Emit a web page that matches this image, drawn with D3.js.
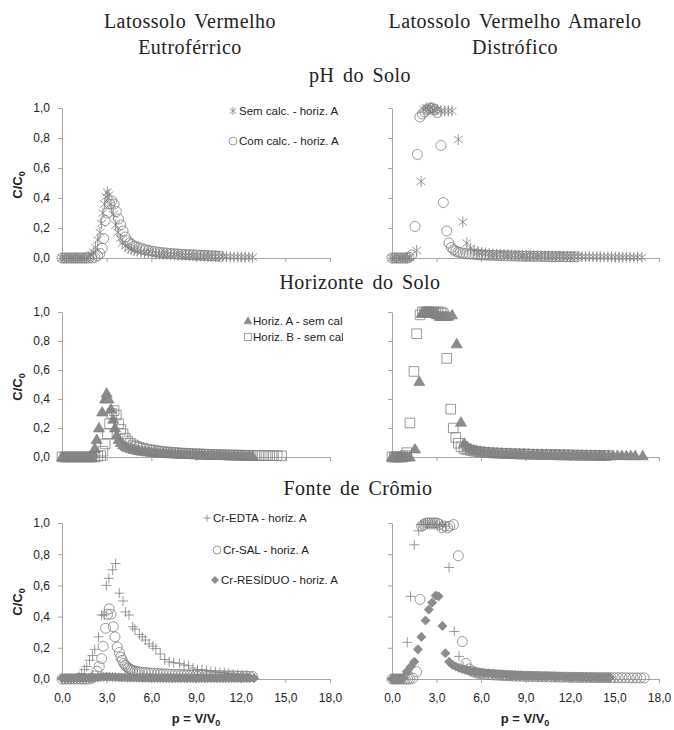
<!DOCTYPE html>
<html>
<head>
<meta charset="utf-8">
<script src="https://cdn.jsdelivr.net/npm/d3@7"></script>
<style>
  body { margin: 0; background: #fff; }
  svg text { fill: #222; }
</style>
</head>
<body>
<svg id="chart" width="674" height="730"></svg>
<script>
// ---- data (p = V/V0, C/C0) ----
const xTickVals = [0, 3, 6, 9, 12, 15, 18];
const xTickLabels = ["0,0", "3,0", "6,0", "9,0", "12,0", "15,0", "18,0"];
const yTickVals = [0, 0.2, 0.4, 0.6, 0.8, 1.0];
const yTickLabels = ["0,0", "0,2", "0,4", "0,6", "0,8", "1,0"];

// pH do Solo - Latossolo Vermelho Eutroférrico
const tlSemCalc = [[0,0],[0.15,0],[0.3,0],[0.45,0],[0.6,0],[0.75,0],[0.9,0],[1.05,0],[1.2,0],[1.35,0],[1.5,0],[1.65,0],[1.8,0.01],[1.95,0.02],[2.1,0.04],[2.25,0.07],[2.4,0.12],[2.55,0.17],[2.65,0.23],[2.75,0.3],[2.85,0.36],[2.95,0.41],[3.05,0.44],[3.15,0.42],[3.3,0.36],[3.45,0.29],[3.6,0.22],[3.75,0.17],[3.9,0.13],[4.05,0.1],[4.25,0.08],[4.45,0.065],[4.65,0.055],[4.85,0.05],[5.05,0.045],[5.3,0.04],[5.55,0.036],[5.8,0.033],[6.05,0.03],[6.3,0.028],[6.55,0.026],[6.8,0.025],[7.05,0.024],[7.3,0.022],[7.55,0.021],[7.8,0.02],[8.05,0.019],[8.3,0.018],[8.55,0.017],[8.8,0.016],[9.05,0.015],[9.3,0.014],[9.55,0.013],[9.8,0.012],[10.05,0.012],[10.3,0.011],[10.55,0.01],[10.8,0.01],[11.05,0.009],[11.3,0.008],[11.55,0.008],[11.8,0.007],[12.05,0.007],[12.3,0.006],[12.55,0.006],[12.8,0.005]];
const tlComCalc = [[0,0],[0.2,0],[0.4,0],[0.6,0],[0.8,0],[1.0,0],[1.2,0],[1.4,0],[1.6,0],[1.8,0],[2.0,0],[2.2,0.005],[2.4,0.015],[2.55,0.03],[2.7,0.065],[2.8,0.13],[2.9,0.25],[3.05,0.3],[3.2,0.36],[3.35,0.38],[3.5,0.36],[3.65,0.31],[3.8,0.26],[3.95,0.22],[4.1,0.18],[4.25,0.14],[4.4,0.115],[4.55,0.1],[4.7,0.09],[4.85,0.08],[5.0,0.075],[5.2,0.068],[5.4,0.062],[5.6,0.056],[5.8,0.051],[6.0,0.047],[6.2,0.043],[6.4,0.04],[6.6,0.037],[6.8,0.035],[7.0,0.033],[7.2,0.031],[7.4,0.029],[7.6,0.028],[7.8,0.026],[8.0,0.025],[8.2,0.024],[8.4,0.023],[8.6,0.022],[8.8,0.021],[9.0,0.02],[9.2,0.019],[9.4,0.018],[9.6,0.017],[9.8,0.016],[10.0,0.015],[10.2,0.014],[10.4,0.013],[10.6,0.012]];

// pH do Solo - Latossolo Vermelho Amarelo Distrófico
const trSemCalc = [[0,0],[0.15,0],[0.3,0],[0.45,0],[0.6,0],[0.75,0],[0.9,0],[1.05,0],[1.2,0.005],[1.66,0.05],[1.96,0.51],[2.15,0.99],[2.3,1.0],[2.45,0.99],[2.6,1.0],[2.75,0.99],[2.9,0.98],[3.05,0.99],[3.3,0.98],[3.55,0.98],[3.8,0.98],[4.05,0.98],[4.47,0.79],[4.77,0.24],[5.04,0.1],[5.3,0.065],[5.55,0.05],[5.8,0.042],[6.05,0.036],[6.3,0.032],[6.55,0.029],[6.8,0.027],[7.05,0.025],[7.3,0.024],[7.55,0.022],[7.8,0.021],[8.05,0.02],[8.3,0.019],[8.55,0.018],[8.8,0.017],[9.05,0.016],[9.3,0.016],[9.55,0.015],[9.8,0.015],[10.05,0.014],[10.3,0.014],[10.55,0.013],[10.8,0.013],[11.05,0.012],[11.3,0.012],[11.55,0.011],[11.8,0.011],[12.05,0.01],[12.3,0.01],[12.55,0.01],[12.8,0.009],[13.05,0.009],[13.3,0.009],[13.55,0.008],[13.8,0.008],[14.05,0.008],[14.3,0.007],[14.55,0.007],[14.8,0.007],[15.05,0.006],[15.3,0.006],[15.55,0.006],[15.8,0.005],[16.05,0.005],[16.3,0.005],[16.55,0.005],[16.85,0.004]];
const trComCalc = [[0,0],[0.2,0],[0.4,0],[0.6,0],[0.8,0],[1.0,0],[1.15,0.005],[1.33,0.02],[1.55,0.21],[1.71,0.69],[1.88,0.94],[2.05,0.96],[2.2,0.975],[2.4,0.99],[2.56,1.0],[2.72,1.0],[2.88,0.99],[3.05,0.97],[3.3,0.75],[3.46,0.37],[3.69,0.18],[3.84,0.1],[4.0,0.07],[4.15,0.055],[4.3,0.046],[4.45,0.04],[4.6,0.036],[4.8,0.032],[5.0,0.029],[5.2,0.027],[5.4,0.025],[5.6,0.024],[5.8,0.022],[6.0,0.021],[6.2,0.02],[6.4,0.019],[6.6,0.018],[6.8,0.018],[7.0,0.017],[7.2,0.016],[7.4,0.016],[7.6,0.015],[7.8,0.015],[8.0,0.014],[8.2,0.014],[8.4,0.013],[8.6,0.013],[8.8,0.012],[9.0,0.012],[9.2,0.012],[9.4,0.011],[9.6,0.011],[9.8,0.011],[10.0,0.01],[10.2,0.01],[10.4,0.01],[10.6,0.01],[10.8,0.009],[11.0,0.009],[11.2,0.009],[11.4,0.009],[11.6,0.008],[11.8,0.008],[12.0,0.008],[12.2,0.008],[12.45,0.008]];

// Horizonte do Solo - Eutroférrico
const mlHorizA = [[0,0],[0.15,0],[0.3,0],[0.45,0],[0.6,0],[0.75,0],[0.9,0],[1.05,0],[1.2,0],[1.35,0],[1.5,0],[1.65,0],[1.8,0],[1.95,0],[2.1,0.02],[2.2,0.06],[2.33,0.12],[2.48,0.2],[2.7,0.31],[2.89,0.4],[3.0,0.44],[3.12,0.4],[3.29,0.33],[3.44,0.26],[3.56,0.2],[3.67,0.15],[3.8,0.12],[3.95,0.1],[4.1,0.085],[4.25,0.074],[4.4,0.066],[4.6,0.058],[4.8,0.052],[5.0,0.047],[5.2,0.043],[5.4,0.04],[5.6,0.037],[5.8,0.034],[6.0,0.032],[6.2,0.03],[6.4,0.028],[6.6,0.027],[6.8,0.025],[7.0,0.024],[7.2,0.023],[7.4,0.022],[7.6,0.021],[7.8,0.02],[8.0,0.019],[8.2,0.018],[8.4,0.017],[8.6,0.017],[8.8,0.016],[9.0,0.015],[9.2,0.015],[9.4,0.014],[9.6,0.013],[9.8,0.013],[10.0,0.012],[10.2,0.012],[10.4,0.011],[10.6,0.011],[10.8,0.01],[11.0,0.01],[11.2,0.009],[11.4,0.009],[11.6,0.008],[11.8,0.008],[12.0,0.007],[12.2,0.007],[12.4,0.006],[12.6,0.006],[12.8,0.005]];
const mlHorizB = [[0,0],[0.2,0],[0.4,0],[0.6,0],[0.8,0],[1.0,0],[1.2,0],[1.4,0],[1.6,0],[1.8,0],[2.0,0],[2.2,0],[2.4,0.005],[2.6,0.01],[2.75,0.04],[2.9,0.09],[3.05,0.16],[3.2,0.23],[3.35,0.3],[3.5,0.32],[3.65,0.29],[3.8,0.23],[3.95,0.19],[4.1,0.16],[4.25,0.13],[4.4,0.11],[4.6,0.095],[4.8,0.083],[5.0,0.073],[5.2,0.066],[5.45,0.06],[5.7,0.054],[5.95,0.049],[6.2,0.045],[6.45,0.041],[6.7,0.038],[6.95,0.035],[7.2,0.033],[7.45,0.031],[7.7,0.029],[7.95,0.027],[8.2,0.026],[8.45,0.024],[8.7,0.023],[8.95,0.022],[9.2,0.021],[9.45,0.02],[9.7,0.019],[9.95,0.018],[10.2,0.017],[10.45,0.016],[10.7,0.016],[10.95,0.015],[11.2,0.014],[11.45,0.014],[11.7,0.013],[11.95,0.013],[12.2,0.012],[12.45,0.012],[12.7,0.011],[12.95,0.011],[13.2,0.01],[13.45,0.01],[13.7,0.01],[13.95,0.009],[14.2,0.009],[14.45,0.009],[14.75,0.008]];

// Horizonte do Solo - Distrófico
const mrHorizA = [[0,0],[0.15,0],[0.3,0],[0.45,0],[0.6,0],[0.75,0],[0.9,0],[1.05,0],[1.2,0],[1.55,0.055],[1.84,0.52],[2.0,0.99],[2.15,1.0],[2.3,1.0],[2.45,1.0],[2.6,1.0],[2.75,0.99],[2.9,0.99],[3.05,0.98],[3.2,0.97],[3.35,0.97],[3.5,0.97],[3.65,0.97],[3.8,0.97],[4.05,0.98],[4.36,0.78],[4.65,0.24],[4.88,0.095],[5.1,0.07],[5.3,0.058],[5.5,0.05],[5.7,0.045],[5.95,0.04],[6.2,0.036],[6.5,0.033],[6.8,0.031],[7.1,0.029],[7.4,0.027],[7.7,0.026],[8.0,0.025],[8.3,0.024],[8.6,0.023],[8.9,0.022],[9.2,0.021],[9.5,0.02],[9.8,0.019],[10.1,0.019],[10.4,0.018],[10.7,0.017],[11.0,0.017],[11.3,0.016],[11.6,0.016],[11.9,0.015],[12.2,0.015],[12.5,0.014],[12.8,0.014],[13.1,0.013],[13.4,0.013],[13.7,0.012],[14.0,0.012],[14.3,0.011],[14.6,0.011],[14.9,0.01],[15.2,0.01],[15.5,0.01],[15.8,0.009],[16.1,0.009],[16.4,0.009],[16.9,0.008]];
const mrHorizB = [[0,0],[0.15,0],[0.3,0],[0.45,0],[0.6,0],[0.75,0],[0.9,0.01],[1.0,0.03],[1.21,0.235],[1.48,0.59],[1.66,0.85],[1.89,0.98],[2.05,1.0],[2.2,1.0],[2.35,1.0],[2.5,1.0],[2.65,1.0],[2.8,1.0],[2.95,0.99],[3.1,1.0],[3.3,1.0],[3.45,0.99],[3.69,0.68],[3.96,0.33],[4.13,0.2],[4.3,0.135],[4.47,0.095],[4.65,0.07],[4.85,0.058],[5.05,0.05],[5.3,0.045],[5.55,0.04],[5.8,0.037],[6.05,0.034],[6.3,0.032],[6.55,0.03],[6.8,0.028],[7.05,0.027],[7.3,0.026],[7.55,0.025],[7.8,0.024],[8.05,0.023],[8.3,0.022],[8.55,0.021],[8.8,0.02],[9.05,0.02],[9.3,0.019],[9.55,0.018],[9.8,0.018],[10.05,0.017],[10.3,0.017],[10.55,0.016],[10.8,0.016],[11.05,0.015],[11.3,0.015],[11.55,0.014],[11.8,0.014],[12.05,0.013],[12.3,0.013],[12.55,0.012],[12.8,0.012],[13.05,0.012],[13.3,0.011],[13.55,0.011],[13.8,0.01],[14.05,0.01],[14.3,0.01],[14.5,0.01]];

// Fonte de Crômio - Eutroférrico
const blEdta = [[0,0],[0.2,0],[0.4,0],[0.6,0],[0.8,0],[1.0,0.005],[1.15,0.015],[1.32,0.035],[1.5,0.06],[1.66,0.08],[1.85,0.12],[2.05,0.15],[2.2,0.19],[2.45,0.27],[2.66,0.41],[2.84,0.41],[2.98,0.6],[3.15,0.645],[3.4,0.7],[3.6,0.74],[3.85,0.55],[4.1,0.5],[4.27,0.43],[4.5,0.41],[4.75,0.335],[4.9,0.32],[5.2,0.285],[5.4,0.27],[5.6,0.25],[5.85,0.225],[6.1,0.21],[6.3,0.195],[6.6,0.16],[6.9,0.125],[7.2,0.11],[7.5,0.105],[7.9,0.1],[8.2,0.09],[8.5,0.085],[8.8,0.07],[9.1,0.06],[9.4,0.06],[9.7,0.055],[10.0,0.05],[10.3,0.045],[10.6,0.04],[10.9,0.04],[11.2,0.035],[11.5,0.03],[11.8,0.03],[12.1,0.025],[12.4,0.025]];
const blSal = [[0,0],[0.2,0],[0.4,0],[0.6,0],[0.8,0],[1.0,0],[1.2,0],[1.4,0],[1.6,0],[1.8,0],[2.0,0.005],[2.2,0.02],[2.35,0.05],[2.5,0.08],[2.66,0.13],[2.77,0.21],[2.93,0.325],[3.06,0.415],[3.17,0.45],[3.29,0.415],[3.44,0.335],[3.56,0.27],[3.71,0.205],[3.85,0.17],[3.95,0.14],[4.05,0.12],[4.15,0.1],[4.25,0.088],[4.35,0.078],[4.45,0.07],[4.55,0.064],[4.65,0.059],[4.75,0.055],[4.9,0.051],[5.05,0.048],[5.2,0.045],[5.4,0.043],[5.6,0.041],[5.8,0.039],[6.0,0.037],[6.2,0.036],[6.4,0.035],[6.6,0.034],[6.8,0.033],[7.0,0.032],[7.2,0.031],[7.4,0.03],[7.6,0.03],[7.8,0.029],[8.0,0.028],[8.2,0.028],[8.4,0.027],[8.6,0.026],[8.8,0.026],[9.0,0.025],[9.2,0.025],[9.4,0.024],[9.6,0.024],[9.8,0.023],[10.0,0.023],[10.2,0.022],[10.4,0.022],[10.6,0.021],[10.8,0.021],[11.0,0.02],[11.2,0.02],[11.4,0.019],[11.6,0.019],[11.8,0.018],[12.0,0.018],[12.2,0.017],[12.4,0.017],[12.6,0.016],[12.8,0.016]];
const blResiduo = [[0,0.005],[0.2,0.005],[0.4,0.005],[0.6,0.005],[0.8,0.005],[1.0,0.005],[1.2,0.005],[1.4,0.005],[1.6,0.005],[1.8,0.006],[2.0,0.007],[2.2,0.008],[2.4,0.01],[2.6,0.012],[2.8,0.014],[3.0,0.015],[3.2,0.014],[3.4,0.013],[3.6,0.012],[3.8,0.011],[4.0,0.01],[4.2,0.01],[4.4,0.009],[4.6,0.009],[4.8,0.008],[5.0,0.008],[5.2,0.008],[5.4,0.007],[5.6,0.007],[5.8,0.007],[6.0,0.007],[6.2,0.006],[6.4,0.006],[6.6,0.006],[6.8,0.006],[7.0,0.006],[7.2,0.006],[7.4,0.005],[7.6,0.005],[7.8,0.005],[8.0,0.005],[8.2,0.005],[8.4,0.005],[8.6,0.005],[8.8,0.005],[9.0,0.005],[9.2,0.005],[9.4,0.005],[9.6,0.005],[9.8,0.005],[10.0,0.005],[10.2,0.005],[10.4,0.005],[10.6,0.005],[10.8,0.005],[11.0,0.005],[11.2,0.005],[11.4,0.005],[11.6,0.005],[11.8,0.005],[12.0,0.005],[12.2,0.005],[12.4,0.005],[12.6,0.005],[12.9,0.005]];

// Fonte de Crômio - Distrófico
const brEdta = [[0,0],[0.15,0],[0.3,0],[0.45,0],[0.6,0],[0.75,0.005],[1.03,0.235],[1.25,0.53],[1.5,0.86],[1.8,0.95],[1.95,0.99],[2.1,0.99],[2.25,1.0],[2.4,0.99],[2.55,0.99],[2.7,0.99],[2.85,0.99],[3.0,0.99],[3.2,0.98],[3.4,0.99],[3.6,0.98],[3.85,0.715],[4.2,0.305],[4.52,0.145],[4.8,0.08],[5.05,0.06],[5.3,0.05],[5.6,0.045],[5.9,0.04],[6.2,0.036],[6.5,0.033],[6.8,0.03],[7.1,0.028],[7.4,0.026],[7.7,0.024],[8.0,0.022],[8.3,0.021],[8.6,0.02],[8.9,0.019],[9.2,0.018],[9.5,0.017],[9.8,0.016],[10.1,0.015],[10.4,0.014],[10.7,0.014],[11.0,0.013],[11.3,0.012],[11.6,0.012],[11.9,0.011],[12.2,0.011],[12.5,0.01],[12.8,0.01],[13.1,0.01],[13.4,0.009],[13.7,0.009],[14.0,0.009],[14.3,0.008],[14.6,0.008]];
const brSal = [[0,0],[0.15,0],[0.3,0],[0.45,0],[0.6,0],[0.75,0],[0.9,0],[1.05,0],[1.2,0],[1.4,0.005],[1.66,0.047],[1.89,0.51],[2.0,0.98],[2.15,0.99],[2.3,1.0],[2.45,1.0],[2.6,1.0],[2.75,1.0],[2.9,1.0],[3.05,1.0],[3.2,0.99],[3.35,0.97],[3.55,0.98],[3.75,0.97],[3.9,0.98],[4.15,0.99],[4.47,0.79],[4.74,0.24],[4.99,0.1],[5.2,0.065],[5.4,0.05],[5.6,0.042],[5.8,0.037],[6.0,0.034],[6.25,0.031],[6.5,0.029],[6.75,0.027],[7.0,0.025],[7.25,0.024],[7.5,0.022],[7.75,0.021],[8.0,0.02],[8.25,0.019],[8.5,0.018],[8.75,0.018],[9.0,0.017],[9.25,0.016],[9.5,0.016],[9.75,0.015],[10.0,0.015],[10.25,0.014],[10.5,0.014],[10.75,0.013],[11.0,0.013],[11.25,0.012],[11.5,0.012],[11.75,0.012],[12.0,0.011],[12.25,0.011],[12.5,0.011],[12.75,0.01],[13.0,0.01],[13.25,0.01],[13.5,0.01],[13.75,0.009],[14.0,0.009],[14.25,0.009],[14.5,0.009],[14.75,0.008],[15.0,0.008],[15.25,0.008],[15.5,0.008],[15.75,0.008],[16.0,0.007],[16.25,0.007],[16.5,0.007],[16.75,0.007],[17.0,0.007]];
const brResiduo = [[0,0],[0.15,0],[0.3,0],[0.45,0],[0.6,0],[0.75,0.005],[0.99,0.047],[1.27,0.08],[1.5,0.11],[1.75,0.19],[1.98,0.27],[2.26,0.375],[2.48,0.445],[2.71,0.49],[2.95,0.535],[3.14,0.53],[3.4,0.34],[3.6,0.165],[3.85,0.11],[4.09,0.09],[4.3,0.08],[4.5,0.072],[4.7,0.065],[4.9,0.06],[5.1,0.055],[5.3,0.051],[5.5,0.048],[5.7,0.045],[5.9,0.042],[6.1,0.04],[6.3,0.038],[6.5,0.036],[6.7,0.034],[6.9,0.033],[7.1,0.031],[7.3,0.03],[7.5,0.029],[7.7,0.028],[7.9,0.027],[8.1,0.026],[8.3,0.025],[8.5,0.024],[8.7,0.023],[8.9,0.022],[9.1,0.022],[9.3,0.021],[9.5,0.02],[9.7,0.02],[9.9,0.019],[10.1,0.019],[10.3,0.018],[10.5,0.018],[10.7,0.017],[10.9,0.017],[11.1,0.016],[11.3,0.016],[11.5,0.015],[11.7,0.015],[11.9,0.014],[12.1,0.014],[12.3,0.013],[12.5,0.013],[12.7,0.012],[12.9,0.012],[13.1,0.012],[13.3,0.011],[13.5,0.011],[13.7,0.011],[13.9,0.01],[14.1,0.01],[14.3,0.01],[14.5,0.01],[14.7,0.01]];

// ---- drawing ----
const svg = d3.select("#chart");
const grey = "#808080";
const sans = "'Liberation Sans', Arial, sans-serif";
const serif = "'Liberation Serif', 'Times New Roman', serif";

function markerPath(type, r) {
  if (type === "circle") return `M${r},0A${r},${r} 0 1,1 ${-r},0A${r},${r} 0 1,1 ${r},0Z`;
  if (type === "square") return `M${-r},${-r}H${r}V${r}H${-r}Z`;
  if (type === "triangle") return `M0,${-r * 1.05}L${r * 1.05},${r * 0.75}L${-r * 1.05},${r * 0.75}Z`;
  if (type === "diamond") return `M0,${-r}L${r},0L0,${r}L${-r},0Z`;
  if (type === "plus") return `M${-r},0H${r}M0,${-r}V${r}`;
  // asterisk: vertical bar plus an X
  const a = r * 0.8;
  return `M0,${-r}V${r}M${-a},${-a * 0.8}L${a},${a * 0.8}M${-a},${a * 0.8}L${a},${-a * 0.8}`;
}

function markerStyle(sel, type) {
  if (type === "triangle" || type === "diamond") {
    sel.attr("fill", "#8c8c8c").attr("stroke", "#7a7a7a").attr("stroke-width", 0.6);
  } else {
    sel.attr("fill", "none").attr("stroke", grey).attr("stroke-width", 0.8);
  }
}

const markerR = {circle: 5, square: 4.8, triangle: 5.3, diamond: 4.6, plus: 5, asterisk: 5.5};

function drawPanel(p) {
  const x = d3.scaleLinear().domain([0, 18]).range(p.xr);
  const y = d3.scaleLinear().domain([0, 1]).range(p.yr);
  const g = svg.append("g");

  const xa = g.append("g")
    .attr("transform", `translate(0,${p.yr[0]})`)
    .call(d3.axisBottom(x).tickValues(xTickVals).tickSize(4).tickSizeOuter(0)
      .tickPadding(10)
      .tickFormat((d, i) => p.xLabels ? xTickLabels[i] : ""));
  const ya = g.append("g")
    .attr("transform", `translate(${p.xr[0]},0)`)
    .call(d3.axisLeft(y).tickValues(yTickVals).tickSize(4).tickSizeOuter(0)
      .tickPadding(8)
      .tickFormat((d, i) => p.yLabels ? yTickLabels[i] : ""));
  [xa, ya].forEach(a => {
    a.selectAll("path, line").attr("stroke", "#a6a6a6");
    a.selectAll("text").attr("font-family", sans).attr("font-size", 12).attr("fill", "#222");
  });

  p.series.forEach(s => {
    g.append("g").selectAll("path")
      .data(s.data)
      .join("path")
      .attr("d", markerPath(s.type, markerR[s.type]))
      .attr("transform", d => `translate(${x(d[0])},${y(d[1])})`)
      .call(markerStyle, s.type);
  });
}

function legend(items, clipX) {
  const g = svg.append("g");
  if (clipX) {
    svg.append("clipPath").attr("id", "legclip")
      .append("rect").attr("x", 0).attr("y", 0).attr("width", clipX).attr("height", 730);
    g.attr("clip-path", "url(#legclip)");
  }
  items.forEach(it => {
    g.append("path")
      .attr("d", markerPath(it.type, it.r))
      .attr("transform", `translate(${it.mx},${it.y})`)
      .call(markerStyle, it.type);
    g.append("text")
      .attr("x", it.tx).attr("y", it.y + 4)
      .attr("font-family", sans).attr("font-size", 11.5).attr("fill", "#333")
      .text(it.label);
  });
}

const leftX = [62, 330], rightX = [392, 659];

drawPanel({xr: leftX, yr: [258, 108], yLabels: true, xLabels: false,
  series: [{data: tlSemCalc, type: "asterisk"}, {data: tlComCalc, type: "circle"}]});
drawPanel({xr: rightX, yr: [258, 108], yLabels: false, xLabels: false,
  series: [{data: trSemCalc, type: "asterisk"}, {data: trComCalc, type: "circle"}]});
drawPanel({xr: leftX, yr: [457, 312], yLabels: true, xLabels: false,
  series: [{data: mlHorizA, type: "triangle"}, {data: mlHorizB, type: "square"}]});
drawPanel({xr: rightX, yr: [457, 312], yLabels: false, xLabels: false,
  series: [{data: mrHorizA, type: "triangle"}, {data: mrHorizB, type: "square"}]});
drawPanel({xr: leftX, yr: [679, 523], yLabels: true, xLabels: true,
  series: [{data: blEdta, type: "plus"}, {data: blSal, type: "circle"}, {data: blResiduo, type: "diamond"}]});
drawPanel({xr: rightX, yr: [679, 523], yLabels: false, xLabels: true,
  series: [{data: brEdta, type: "plus"}, {data: brSal, type: "circle"}, {data: brResiduo, type: "diamond"}]});

legend([
  {type: "asterisk", r: 4, mx: 233, tx: 239, y: 111, label: "Sem calc. - horiz. A"},
  {type: "circle", r: 4, mx: 233, tx: 239, y: 141, label: "Com calc. - horiz. A"}
]);
legend([
  {type: "triangle", r: 3.8, mx: 248, tx: 253, y: 321, label: "Horiz. A - sem calcário"},
  {type: "square", r: 3.6, mx: 248, tx: 253, y: 337, label: "Horiz. B - sem calcário"}
], 343);
legend([
  {type: "plus", r: 3.5, mx: 207, tx: 213, y: 518, label: "Cr-EDTA - horiz. A"},
  {type: "circle", r: 4, mx: 217, tx: 223, y: 550, label: "Cr-SAL - horiz. A"},
  {type: "diamond", r: 3.6, mx: 215, tx: 221, y: 580, label: "Cr-RESÍDUO - horiz. A"}
]);

// axis titles
[185, 387, 602].forEach(cy => {
  const t = svg.append("text")
    .attr("transform", `translate(22,${cy}) rotate(-90)`)
    .attr("text-anchor", "middle")
    .attr("font-family", sans).attr("font-size", 13).attr("font-weight", "bold");
  t.append("tspan").text("C/C");
  t.append("tspan").attr("font-size", 9).attr("dy", 3).text("0");
});
[196, 525].forEach(cx => {
  const t = svg.append("text")
    .attr("x", cx).attr("y", 723)
    .attr("text-anchor", "middle")
    .attr("font-family", sans).attr("font-size", 13).attr("font-weight", "bold");
  t.append("tspan").text("p = V/V");
  t.append("tspan").attr("font-size", 9).attr("dy", 3).text("0");
});

// titles
const titles = [
  {x: 190, y: 28, t: "Latossolo Vermelho"},
  {x: 190, y: 54, t: "Eutroférrico"},
  {x: 515, y: 28, t: "Latossolo Vermelho Amarelo"},
  {x: 515, y: 54, t: "Distrófico"},
  {x: 360, y: 82, t: "pH do Solo"},
  {x: 360, y: 289, t: "Horizonte do Solo"},
  {x: 358, y: 495, t: "Fonte de Crômio"}
];
svg.append("g").selectAll("text")
  .data(titles)
  .join("text")
  .attr("x", d => d.x).attr("y", d => d.y)
  .attr("text-anchor", "middle")
  .attr("font-family", serif).attr("font-size", 20)
  .attr("letter-spacing", 0.5).attr("word-spacing", 3)
  .text(d => d.t);
</script>
</body>
</html>
